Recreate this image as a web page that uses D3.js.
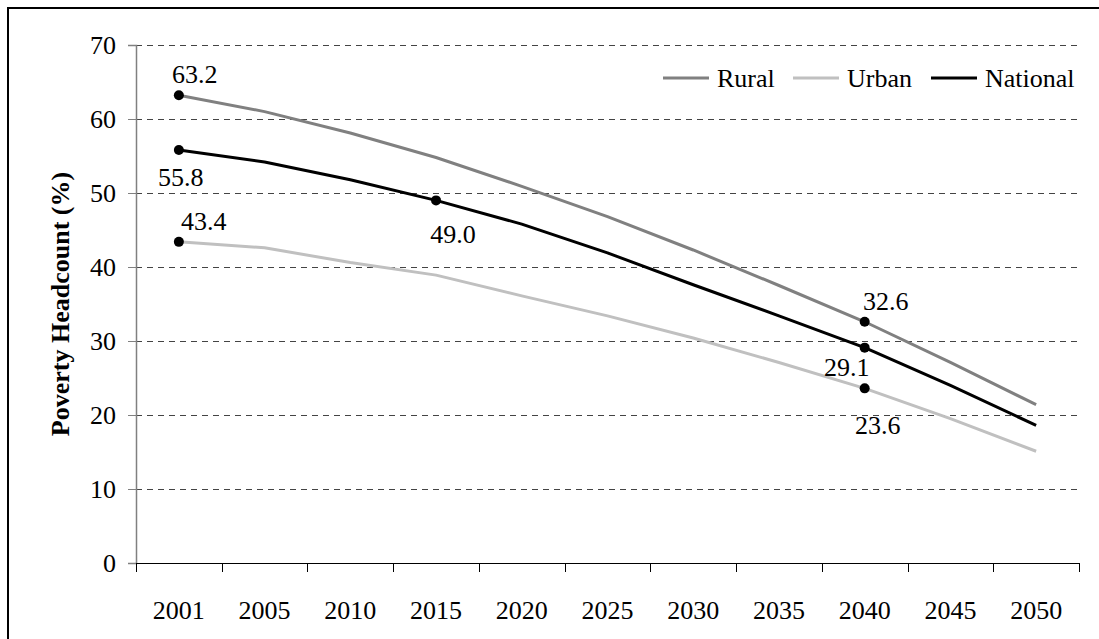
<!DOCTYPE html>
<html>
<head>
<meta charset="utf-8">
<script src="https://cdn.jsdelivr.net/npm/d3@7"></script>
<style>
  body { margin: 0; background: #fff; }
  svg text { font-family: "Liberation Serif", "Times New Roman", Times, Tinos, "DejaVu Serif", "Noto Serif", serif !important; fill: #000; }
</style>
</head>
<body>
<div id="chart"></div>
<script>
// data
var years = ["2001", "2005", "2010", "2015", "2020", "2025", "2030", "2035", "2040", "2045", "2050"];
var rural = [63.2, 61.0, 58.1, 54.8, 50.9, 46.8, 42.3, 37.5, 32.6, 27.1, 21.4];
var urban = [43.4, 42.6, 40.6, 38.9, 36.1, 33.4, 30.4, 27.1, 23.6, 19.5, 15.1];
var national = [55.8, 54.2, 51.8, 49.0, 45.8, 41.9, 37.6, 33.4, 29.1, 24.0, 18.6];
var yTicks = [0, 10, 20, 30, 40, 50, 60, 70];
var seriesNames = ["Rural", "Urban", "National"];
var seriesColors = ["#808080", "#c0c0c0", "#000000"];
// labelled points: [series index, year index, dx, dy]
var callouts = [
  [0, 0, 16, -12], [2, 0, 2, 36], [1, 0, 25, -12],
  [2, 3, 17, 43],
  [0, 8, 21, -12], [2, 8, -18, 28], [1, 8, 13, 46]
];

var W = 1099, H = 639;
var margin = {top: 45, right: 20, bottom: 76, left: 136},
    width = 1079 - margin.left,
    height = 563 - margin.top;

var svg = d3.select("#chart").append("svg")
    .attr("width", W)
    .attr("height", H);

// outer frame (right and bottom edges run off the picture)
svg.append("rect")
    .attr("x", 8).attr("y", 8)
    .attr("width", W + 20).attr("height", H + 20)
    .attr("fill", "none")
    .attr("stroke", "#000")
    .attr("stroke-width", 2);

var g = svg.append("g")
    .attr("transform", "translate(" + margin.left + "," + margin.top + ")");

var x = d3.scaleBand().domain(years).range([0, width]).padding(0);
var y = d3.scaleLinear().domain([0, 70]).range([height, 0]);
var cx = function(i) { return x(years[i]) + x.bandwidth() / 2; };

// dashed gridlines
g.selectAll(".grid")
  .data(yTicks.filter(function(d) { return d > 0; }))
  .enter().append("line")
    .attr("x1", 0).attr("x2", width)
    .attr("y1", function(d) { return y(d) + 0.5; })
    .attr("y2", function(d) { return y(d) + 0.5; })
    .attr("stroke", "#444")
    .attr("stroke-width", 1)
    .attr("stroke-dasharray", "6,5");

// Y axis
var yAxis = g.append("g")
    .call(d3.axisLeft(y).tickValues(yTicks).tickSize(8).tickPadding(12))
    .attr("font-family", null);
yAxis.select(".domain").attr("stroke", "#808080").attr("stroke-width", 1.5);
yAxis.selectAll(".tick line").attr("stroke", "#808080");
yAxis.selectAll("text")
    .style("font-size", "26px")
    .attr("fill", "#000");

// X axis: ticks on the band edges
var xAxis = g.append("g")
    .attr("transform", "translate(0," + height + ")");
xAxis.append("line")
    .attr("x1", 0).attr("x2", width)
    .attr("y1", 0.5).attr("y2", 0.5)
    .attr("stroke", "#000").attr("stroke-width", 1);
xAxis.selectAll(".xtick")
  .data(years.concat(["end"]))
  .enter().append("line")
    .attr("x1", function(d, i) { return Math.round(i * x.bandwidth()) + 0.5; })
    .attr("x2", function(d, i) { return Math.round(i * x.bandwidth()) + 0.5; })
    .attr("y1", 0).attr("y2", 9)
    .attr("stroke", "#000");
xAxis.selectAll(".xlab")
  .data(years)
  .enter().append("text")
    .attr("x", function(d) { return x(d) + x.bandwidth() / 2; })
    .attr("y", 56)
    .attr("text-anchor", "middle")
    .style("font-size", "26px")
    .text(function(d) { return d; });

// Y title
svg.append("text")
    .attr("transform", "translate(69," + (margin.top + height / 2) + ") rotate(-90)")
    .attr("text-anchor", "middle")
    .style("font-size", "26px")
    .style("font-weight", "bold")
    .text("Poverty Headcount (%)");

// lines
var allSeries = [rural, urban, national];
var line = d3.line()
    .x(function(d, i) { return cx(i); })
    .y(function(d) { return y(d); });

allSeries.forEach(function(s, k) {
  g.append("path")
      .datum(s)
      .attr("fill", "none")
      .attr("stroke", seriesColors[k])
      .attr("stroke-width", 3)
      .attr("stroke-linejoin", "round")
      .attr("d", line);
});

// marked points and their labels
callouts.forEach(function(c) {
  var v = allSeries[c[0]][c[1]];
  g.append("circle")
      .attr("cx", cx(c[1]))
      .attr("cy", y(v))
      .attr("r", 5)
      .attr("fill", "#000");
  g.append("text")
      .attr("x", cx(c[1]) + c[2])
      .attr("y", y(v) + c[3])
      .attr("text-anchor", "middle")
      .style("font-size", "26px")
      .text(v.toFixed(1));
});

// legend
var legendX = [663, 793, 931];
seriesNames.forEach(function(name, k) {
  svg.append("line")
      .attr("x1", legendX[k]).attr("x2", legendX[k] + 46)
      .attr("y1", 78).attr("y2", 78)
      .attr("stroke", seriesColors[k])
      .attr("stroke-width", 3);
  svg.append("text")
      .attr("x", legendX[k] + 54)
      .attr("y", 87)
      .style("font-size", "26px")
      .text(name);
});
</script>
</body>
</html>
